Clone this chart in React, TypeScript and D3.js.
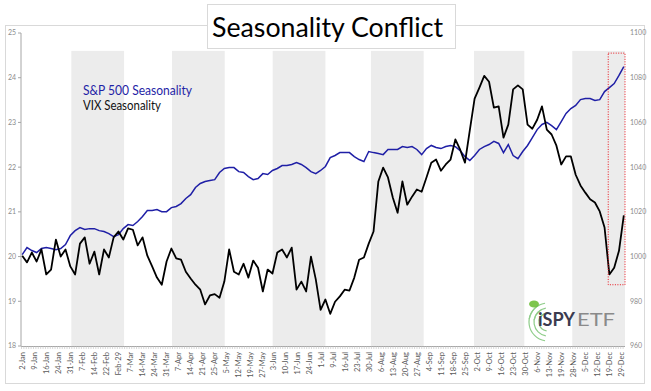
import React from "react";
import * as d3 from "d3";

// weekly tick labels (one every 5 trading days)
const xLabels = [
  "2-Jan", "9-Jan", "16-Jan", "24-Jan", "31-Jan", "7-Feb", "14-Feb", "22-Feb", "Feb-29",
  "7-Mar", "14-Mar", "24-Mar", "31-Mar", "7-Apr", "14-Apr", "21-Apr", "25-Apr", "5-May",
  "12-May", "19-May", "27-May", "3-Jun", "10-Jun", "17-Jun", "24-Jun", "1-Jul", "9-Jul",
  "16-Jul", "23-Jul", "30-Jul", "6-Aug", "13-Aug", "20-Aug", "27-Aug", "4-Sep", "11-Sep",
  "18-Sep", "25-Sep", "2-Oct", "9-Oct", "16-Oct", "23-Oct", "30-Oct", "6-Nov", "13-Nov",
  "19-Nov", "28-Nov", "5-Dec", "12-Dec", "19-Dec", "29-Dec",
];
const tradingDays = 252;

// VIX seasonality (left axis), sampled every other trading day
const vix = [
  20.02, 19.87, 20.09, 19.89, 20.16, 19.6, 19.71, 20.38, 20.0, 20.16,
  19.78, 19.6, 20.29, 20.43, 19.84, 20.11, 19.6, 20.16, 19.98, 20.43,
  20.56, 20.38, 20.63, 20.6, 20.25, 20.43, 20.02, 19.78, 19.53, 19.37,
  19.89, 20.18, 19.96, 19.93, 19.66, 19.51, 19.37, 19.26, 18.93, 19.13,
  19.16, 19.08, 19.44, 20.16, 19.66, 19.6, 19.84, 19.53, 19.91, 19.75,
  19.22, 19.71, 19.62, 20.09, 20.16, 19.98, 20.2, 19.26, 19.44, 19.22,
  20.0, 19.49, 18.81, 19.04, 18.72, 18.99, 19.11, 19.26, 19.24, 19.53,
  19.93, 19.98, 20.29, 20.56, 21.68, 21.99, 21.77, 21.32, 20.98, 21.68,
  21.16, 21.34, 21.5, 21.45, 21.77, 22.1, 22.17, 21.92, 22.06, 22.17,
  22.62, 22.39, 22.1, 22.82, 23.53, 23.78, 24.04, 23.91, 23.33, 23.36,
  22.66, 22.95, 23.74, 23.83, 23.74, 22.95, 22.86, 23.06, 23.36, 22.84,
  22.73, 22.48, 22.06, 22.24, 22.24, 21.83, 21.59, 21.43, 21.28, 21.21,
  21.01, 20.65, 19.6, 19.75, 20.13, 20.92,
];

// S&P 500 seasonality (right axis), same sampling
const spx = [
  1000.9, 1004.0, 1002.7, 1001.8, 1003.6, 1004.0, 1003.6, 1003.1, 1003.6, 1005.4,
  1009.4, 1011.6, 1013.0, 1012.1, 1012.5, 1012.5, 1011.6, 1011.2, 1010.3, 1008.9,
  1009.8, 1012.5, 1014.3, 1013.9, 1015.7, 1017.9, 1020.6, 1020.6, 1021.0, 1020.1,
  1020.1, 1021.9, 1022.4, 1023.7, 1026.0, 1027.7, 1030.9, 1032.7, 1033.6, 1034.0,
  1034.4, 1037.6, 1039.4, 1039.8, 1039.8, 1038.0, 1037.6, 1035.8, 1034.4, 1034.9,
  1037.1, 1036.7, 1038.5, 1039.4, 1040.7, 1040.7, 1041.2, 1042.1, 1041.2, 1039.8,
  1038.0, 1037.1, 1038.5, 1040.3, 1044.3, 1045.2, 1046.5, 1046.5, 1046.5, 1044.7,
  1043.4, 1042.5, 1047.0, 1046.5, 1046.1, 1045.6, 1047.9, 1047.9, 1047.9, 1049.2,
  1048.8, 1049.2, 1047.9, 1045.6, 1048.3, 1049.7, 1048.8, 1048.3, 1049.2, 1049.7,
  1049.2, 1047.4, 1044.7, 1043.0, 1045.2, 1047.9, 1049.2, 1050.1, 1051.5, 1050.6,
  1046.5, 1050.1, 1045.2, 1043.8, 1047.0, 1049.7, 1053.2, 1056.8, 1059.1, 1060.0,
  1058.6, 1056.8, 1060.4, 1064.0, 1066.2, 1067.6, 1070.2, 1070.7, 1070.7, 1069.8,
  1070.2, 1073.8, 1075.6, 1077.4, 1081.0, 1085.0,
];

// shaded months (Feb, Apr, Jun, Aug, Oct, Dec) as trading-day ranges
const shadedMonths = [
  [21, 42],
  [63, 84],
  [105, 126],
  [146, 167],
  [189, 209],
  [230, 251],
];
const shadeTop = 24.6;
// highlighted last days of the year
const highlight = { from: 245, to: 251, top: 24.55, bottom: 19.37 };

const W = 651;
const H = 391;
const plot = { left: 21, right: 625, top: 33, bottom: 346 };

export default function App() {
  const days = d3.range(tradingDays);
  const x = d3.scaleBand<number>().domain(days).range([plot.left, plot.right]);
  const bw = x.bandwidth();
  const cx = (d: number) => (x(d) as number) + bw / 2;

  const yL = d3.scaleLinear().domain([18, 25]).range([plot.bottom, plot.top]);
  const yR = d3.scaleLinear().domain([960, 1100]).range([plot.bottom, plot.top]);

  const sx = (n: number) => d3.scaleLinear().domain([0, n - 1]).range([cx(0), cx(tradingDays - 1)]);
  const vixX = sx(vix.length);
  const spxX = sx(spx.length);

  const vixLine = d3
    .line<number>()
    .x((_, i) => vixX(i))
    .y((d) => yL(d));
  const spxLine = d3
    .line<number>()
    .x((_, i) => spxX(i))
    .y((d) => yR(d));

  const font = "Lato, 'Open Sans', sans-serif";
  const green = "#7cc576";

  return (
    <svg
      width={W}
      height={H}
      style={{ position: "absolute", left: 0, top: 0, background: "#fff" }}
      fontFamily={font}
    >
      {/* chart frame */}
      <rect x={5.5} y={25.5} width={639} height={358} fill="#fff" stroke="#d9d9d9" />

      {/* month shading */}
      {shadedMonths.map(([a, b], i) => (
        <rect
          key={i}
          x={x(a)}
          y={yL(shadeTop)}
          width={(x(b) as number) + bw - (x(a) as number)}
          height={plot.bottom - yL(shadeTop)}
          fill="#ececec"
        />
      ))}

      {/* left axis */}
      <line x1={plot.left} x2={plot.left} y1={plot.top} y2={plot.bottom} stroke="#a6a6a6" />
      {yL.ticks(7).map((t) => (
        <g key={t}>
          <line x1={plot.left - 3} x2={plot.left} y1={yL(t)} y2={yL(t)} stroke="#a6a6a6" />
          <text x={16} y={yL(t)} dy="0.35em" textAnchor="end" fontSize={7} fill="#8c8c8c">
            {t}
          </text>
        </g>
      ))}

      {/* right axis labels */}
      {yR.ticks(7).map((t) => (
        <text key={t} x={630} y={yR(t)} dy="0.35em" fontSize={7} fill="#8c8c8c">
          {t}
        </text>
      ))}

      {/* x axis */}
      <line x1={plot.left} x2={plot.right} y1={plot.bottom + 0.5} y2={plot.bottom + 0.5} stroke="#a6a6a6" />
      {days.map((d) => (
        <line
          key={d}
          x1={(x(d) as number) + 0.5}
          x2={(x(d) as number) + 0.5}
          y1={plot.bottom}
          y2={plot.bottom + 3}
          stroke="#bdbdbd"
          strokeWidth={0.6}
        />
      ))}
      {xLabels.map((lab, i) => (
        <text
          key={lab}
          transform={`translate(${cx(i * 5)},${plot.bottom + 6}) rotate(-90)`}
          dy="0.35em"
          textAnchor="end"
          fontSize={7.5}
          fill="#595959"
        >
          {lab}
        </text>
      ))}

      {/* logo */}
      <g fill="none" stroke={green} strokeWidth={1.2} opacity={0.85}>
        {[9, 14, 19].map((r) => (
          <path
            key={r}
            d={d3.arc()({ innerRadius: r, outerRadius: r, startAngle: -Math.PI * 0.95, endAngle: -Math.PI * 0.15 }) as string}
            transform="translate(548,322)"
          />
        ))}
        {[9, 14, 19].map((r) => (
          <path
            key={"b" + r}
            d={d3.arc()({ innerRadius: r, outerRadius: r, startAngle: -Math.PI * 0.95, endAngle: -Math.PI * 0.55 }) as string}
            transform="translate(548,322) scale(1,-1)"
          />
        ))}
      </g>
      <ellipse cx={534} cy={304} rx={5} ry={3.5} fill="#6fbf3a" opacity={0.9} />
      <text x={538} y={326} fontSize={18} fontWeight={700} fill="#3b3b4f" textLength={37} lengthAdjust="spacingAndGlyphs">
        iSPY
      </text>
      <text x={577} y={326} fontSize={18} fill="#8a8a8a" textLength={38} lengthAdjust="spacingAndGlyphs">
        ETF
      </text>

      {/* series */}
      <path d={spxLine(spx) as string} fill="none" stroke="#1f1fa6" strokeWidth={1.5} />
      <path d={vixLine(vix) as string} fill="none" stroke="#000" strokeWidth={1.8} strokeLinejoin="round" />

      {/* highlight box */}
      <rect
        x={x(highlight.from)}
        y={yL(highlight.top)}
        width={(x(highlight.to) as number) + bw - (x(highlight.from) as number)}
        height={yL(highlight.bottom) - yL(highlight.top)}
        fill="none"
        stroke="#e8141c"
        strokeWidth={1}
        strokeDasharray="1,1.5"
      />

      {/* legend */}
      <text x={83} y={95} fontSize={13} fill="#1f1fa6" textLength={109} lengthAdjust="spacingAndGlyphs">
        S&amp;P 500 Seasonality
      </text>
      <text x={83} y={109.5} fontSize={13} fill="#111" textLength={78} lengthAdjust="spacingAndGlyphs">
        VIX Seasonality
      </text>

      {/* title */}
      <rect x={207.5} y={4.5} width={248} height={44} fill="#fff" stroke="#d9d9d9" />
      <text x={212} y={37} fontSize={26} fill="#000" textLength={231} lengthAdjust="spacingAndGlyphs">
        Seasonality Conflict
      </text>
    </svg>
  );
}
